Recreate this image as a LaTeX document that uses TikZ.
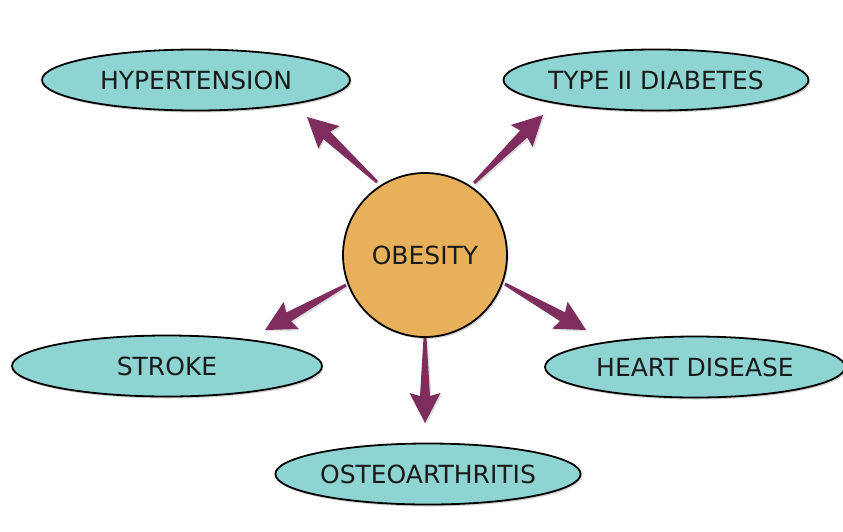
\documentclass[tikz,border=0pt]{standalone}
\usepackage{fontspec}
\setmainfont{DejaVu Sans}
\usetikzlibrary{shapes.geometric,calc,shadows}
\definecolor{ellfill}{HTML}{8ED4D3}
\definecolor{circfill}{HTML}{E9B05C}
\definecolor{arrcol}{HTML}{7E2D5E}
\definecolor{txtcol}{HTML}{1A1A1A}
\tikzset{
  ell/.style={ellipse, draw=black, line width=1.8pt, fill=ellfill,
    minimum width=305pt, minimum height=61pt, inner sep=0pt, text=txtcol,
    font=\fontsize{25}{29}\selectfont,
    drop shadow={opacity=0.35, shadow xshift=1.5pt, shadow yshift=-2pt}},
  hub/.style={circle, draw=black, line width=1.8pt, fill=circfill,
    minimum size=164pt, inner sep=0pt, text=txtcol, font=\fontsize{25}{29}\selectfont,
    drop shadow={opacity=0.3, shadow xshift=1.5pt, shadow yshift=-2pt}},
  fat/.style={fill=arrcol, drop shadow={opacity=0.25, shadow xshift=1.5pt, shadow yshift=-1.5pt}},
}
\newcommand\fatarrow[2]{%
  \coordinate (hb) at ($(#2)!30pt!(#1)$);
  \coordinate (hs) at ($(#2)!27pt!(#1)$);
  \path[fat] ($(#1)!1.5pt!90:(#2)$) -- ($(hs)!5pt!90:(#2)$) -- ($(hb)!15.5pt!90:(#2)$)
    -- (#2) -- ($(hb)!15.5pt!-90:(#2)$) -- ($(hs)!5pt!-90:(#2)$) -- ($(#1)!1.5pt!-90:(#2)$) -- cycle;}
\begin{document}
\begin{tikzpicture}[x=1pt,y=-1pt]
\useasboundingbox (0,0) rectangle (843,531);
\fill[white] (0,0) rectangle (843,531);
\node[hub] (ob) at (425,255) {OBESITY};
\node[ell, minimum width=308pt] (hyp) at (196,80) {HYPERTENSION};
\node[ell, minimum width=303pt] (dia) at (656,80) {TYPE II DIABETES};
\node[ell, minimum width=310pt] (str) at (167,366) {STROKE};
\node[ell, minimum width=300pt] (hd) at (695,367) {HEART DISEASE};
\node[ell, minimum width=305pt] (ost) at (428,474) {OSTEOARTHRITIS};
\coordinate (t1) at (377,182); \coordinate (p1) at (307,117);
\coordinate (t2) at (474,183); \coordinate (p2) at (543,115);
\coordinate (t3) at (346,285); \coordinate (p3) at (265,330);
\coordinate (t4) at (505,284); \coordinate (p4) at (586,330);
\coordinate (t5) at (425,338); \coordinate (p5) at (425,423);
\fatarrow{t1}{p1}
\fatarrow{t2}{p2}
\fatarrow{t3}{p3}
\fatarrow{t4}{p4}
\fatarrow{t5}{p5}
\end{tikzpicture}
\end{document}
